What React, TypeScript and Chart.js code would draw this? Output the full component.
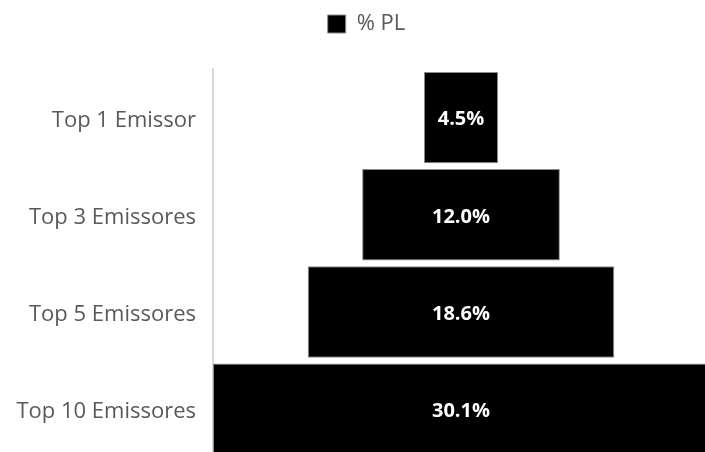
import React, { useEffect, useRef } from "react";
import { Chart, registerables } from "chart.js";

Chart.register(...registerables);

const categories = ["Top 1 Emissor", "Top 3 Emissores", "Top 5 Emissores", "Top 10 Emissores"];
const values = [4.5, 12.0, 18.6, 30.1];
const seriesLabel = "% PL";
const halfMax = 15.05;

const FONT = "'Open Sans', 'Noto Sans', sans-serif";

export default function App() {
  const ref = useRef<HTMLCanvasElement | null>(null);

  useEffect(() => {
    const canvas = ref.current;
    if (!canvas) return;

    const legendTweak = {
      id: "legendTweak",
      beforeInit(chart: any) {
        const legend = chart.legend;
        if (!legend) return;
        const orig = legend.fit;
        legend.fit = function () {
          orig.call(this);
          this.height += 24;
        };
      },
      afterLayout(chart: any) {
        const legend = chart.legend;
        if (!legend) return;
        legend.left += 12;
        legend.right += 12;
      },
    };

    const valueLabels = {
      id: "valueLabels",
      afterDatasetsDraw(chart: any) {
        const ctx = chart.ctx;
        const meta = chart.getDatasetMeta(0);
        ctx.save();
        ctx.fillStyle = "#ffffff";
        ctx.font = `bold 20px ${FONT}`;
        ctx.textAlign = "center";
        ctx.textBaseline = "middle";
        meta.data.forEach((el: any, i: number) => {
          const cx = (el.x + el.base) / 2;
          ctx.fillText(values[i].toFixed(1) + "%", cx, el.y + 2);
        });
        ctx.restore();
      },
    };

    const chart = new Chart(canvas, {
      type: "bar",
      data: {
        labels: categories,
        datasets: [
          {
            label: seriesLabel,
            data: values.map((v) => [-v / 2, v / 2]) as any,
            backgroundColor: "#000000",
            borderColor: "#8c8c8c",
            borderWidth: 1,
            borderSkipped: false,
            barPercentage: 0.94,
            categoryPercentage: 1,
          },
        ],
      },
      options: {
        indexAxis: "y",
        responsive: false,
        animation: false,
        devicePixelRatio: 1,
        layout: { padding: { top: 0, right: 0, bottom: 0, left: 0 } },
        scales: {
          x: {
            display: false,
            min: -halfMax,
            max: halfMax,
          },
          y: {
            grid: { display: false, drawTicks: false },
            border: { display: true, color: "#d9d9d9", width: 2 },
            ticks: {
              color: "#595959",
              font: { family: FONT, size: 22 },
              padding: 17,
              labelOffset: 3,
            },
            afterFit(scale: any) {
              scale.width = 213;
            },
          },
        },
        plugins: {
          legend: {
            display: true,
            position: "top",
            labels: {
              color: "#595959",
              font: { family: FONT, size: 22 },
              boxWidth: 18,
              boxHeight: 18,
              padding: 13,
            },
          },
          tooltip: { enabled: false },
        },
      },
      plugins: [legendTweak, valueLabels],
    });

    return () => chart.destroy();
  }, []);

  return (
    <div style={{ position: "fixed", left: 0, top: 0, width: 709, height: 488, background: "#fff" }}>
      <canvas ref={ref} width={709} height={488} style={{ display: "block" }} />
    </div>
  );
}
